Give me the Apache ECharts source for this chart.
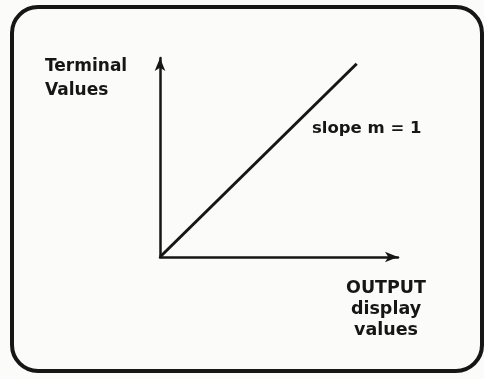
<!DOCTYPE html>
<html>
<head>
<meta charset="utf-8">
<script src="https://cdn.jsdelivr.net/npm/echarts@6/dist/echarts.min.js"></script>
<style>
  html, body { margin: 0; padding: 0; background: #fbfbf9; }
  #chart { width: 484px; height: 379px; }
</style>
</head>
<body>
<div id="chart"></div>
<script>
// 数据：OUTPUT display values -> Terminal values, 斜率 m = 1
const outputValues = [0, 1]
const terminalValues = [0, 1]
const axisMax = { x: 1.21, y: 1.03 }

const yLabel = ['Terminal', 'Values']
const xLabel = ['OUTPUT', 'display', 'values']
const slopeLabel = 'slope m = 1'

const ink = '#161616'
const font = 'DejaVu Sans'

let points = outputValues.map((x, i) => [x, terminalValues[i]])

let option = {
    backgroundColor: '#fbfbf9',
    animation: false,
    grid: { left: 160, top: 58, width: 238, height: 199 },
    xAxis: {
        type: 'value', min: 0, max: axisMax.x,
        axisLine: { show: true, symbol: ['none', 'arrow'], symbolSize: [8, 13],
            lineStyle: { color: ink, width: 2.5 } },
        axisTick: { show: false }, axisLabel: { show: false }, splitLine: { show: false }
    },
    yAxis: {
        type: 'value', min: 0, max: axisMax.y,
        axisLine: { show: true, symbol: ['none', 'arrow'], symbolSize: [8, 13],
            lineStyle: { color: ink, width: 2.5 } },
        axisTick: { show: false }, axisLabel: { show: false }, splitLine: { show: false }
    },
    series: [{
        type: 'line',
        data: points,
        symbol: 'none',
        lineStyle: { color: ink, width: 3 }
    }],
    graphic: [
        {
            type: 'rect',
            shape: { x: 12, y: 7, width: 470, height: 364, r: 26 },
            style: { fill: 'none', stroke: ink, lineWidth: 4 }
        },
        {
            type: 'text', left: 45, top: 55,
            style: { text: yLabel.join('\n'), font: 'bold 17px ' + font, fill: ink, lineHeight: 24 }
        },
        {
            type: 'text', left: 312, top: 120,
            style: { text: slopeLabel, font: 'bold 16.5px ' + font, fill: ink }
        },
        {
            type: 'text', x: 386, y: 278,
            style: { text: xLabel.join('\n'), font: 'bold 17.5px ' + font, fill: ink,
                align: 'center', lineHeight: 21 }
        }
    ]
}

let chartDom = echarts.init(document.querySelector('#chart'))
chartDom.setOption(option)
</script>
</body>
</html>
